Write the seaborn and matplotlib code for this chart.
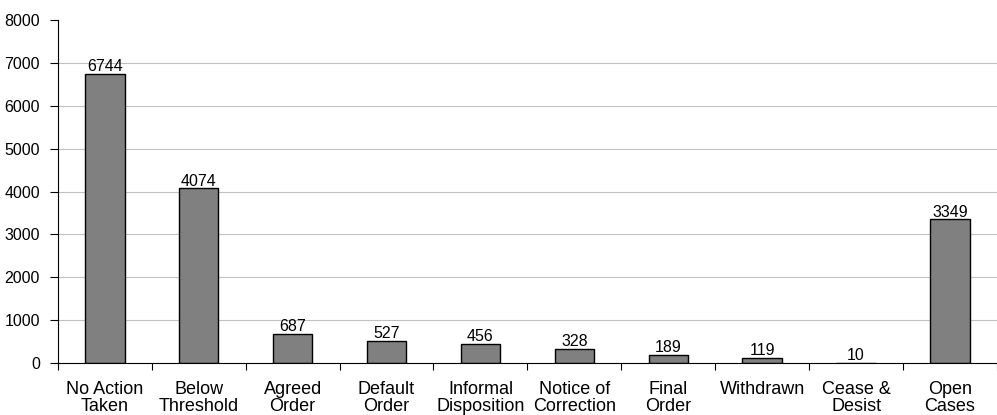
import matplotlib
matplotlib.use("Agg")
import matplotlib.pyplot as plt
import seaborn as sns
import pandas as pd
import numpy as np
from matplotlib.ticker import FixedLocator

categories = ["No Action\nTaken", "Below\nThreshold", "Agreed\nOrder", "Default\nOrder",
              "Informal\nDisposition", "Notice of\nCorrection", "Final\nOrder",
              "Withdrawn", "Cease &\nDesist", "Open\nCases"]
counts = [6744, 4074, 687, 527, 456, 328, 189, 119, 10, 3349]

sns.set_style("white")
plt.rcParams['font.family'] = ['Liberation Sans', 'DejaVu Sans']
plt.rcParams['text.color'] = 'black'
plt.rcParams['xtick.color'] = 'black'
plt.rcParams['ytick.color'] = 'black'

df = pd.DataFrame({"category": categories, "count": counts})

fig = plt.figure(figsize=(9.97, 4.15), dpi=100)
ax = fig.add_axes([0.058, 0.125, 0.942, 0.827])

sns.barplot(data=df, x="category", y="count", color="#808080", saturation=1,
            edgecolor="black", linewidth=1, width=0.42, ax=ax)

# value labels
for i, v in enumerate(counts):
    ax.text(i, v - 10, str(v), ha="center", va="bottom", fontsize=11.5, color="black")

ax.set_xlim(-0.5, len(categories) - 0.5)
ax.set_ylim(0, 8000)
ax.set_yticks(range(0, 8001, 1000))
ax.set_xlabel("")
ax.set_ylabel("")

# gridlines except top
for y in range(1000, 8000, 1000):
    ax.axhline(y, color="#c0c0c0", linewidth=0.8, zorder=0)

# tick marks between categories, labels at centers
ax.xaxis.set_minor_locator(FixedLocator(np.arange(-0.5, len(categories), 1.0)))
ax.tick_params(axis="x", which="major", bottom=True, length=0, labelsize=13, pad=13,
               labelcolor="black")
ax.tick_params(axis="x", which="minor", bottom=True, length=5, width=0.8,
               direction="out", color="black")
ax.tick_params(axis="y", which="major", left=True, length=6, width=0.8, direction="out",
               color="black", labelsize=11.5, pad=7, labelcolor="black")
for lbl in ax.get_xticklabels():
    lbl.set_linespacing(0.95)

for s in ["top", "right"]:
    ax.spines[s].set_visible(False)
for s in ["left", "bottom"]:
    ax.spines[s].set_color("black")
    ax.spines[s].set_linewidth(0.8)

fig.savefig("out.png", dpi=100)
